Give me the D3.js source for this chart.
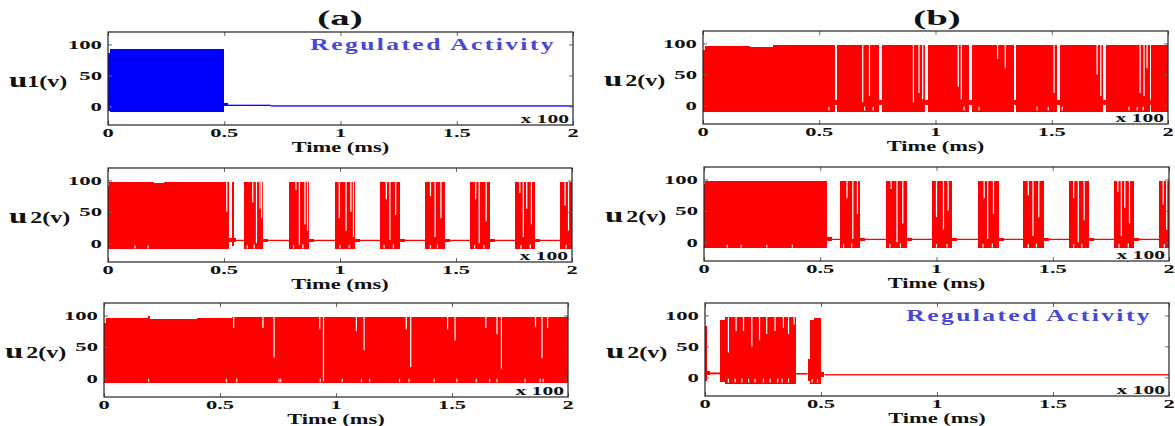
<!DOCTYPE html>
<html><head><meta charset="UTF-8">
<style>
  body { margin: 0; background: #fff; }
  svg { display: block; }
  text { font-family: "Liberation Serif", "DejaVu Serif", serif; font-weight: bold; }
</style>
</head>
<body>
<svg id="fig"></svg>
<script src="https://cdn.jsdelivr.net/npm/d3@7/dist/d3.min.js"></script>
<script>
// axis ticks (time in ms x100, voltage in v)
var xTicks = [0, 0.5, 1, 1.5, 2];
var xTickLabels = ["0", "0.5", "1", "1.5", "2"];
var yTicks = [0, 50, 100];
var yTickLabels = ["0", "50", "100"];
var yRange = [-30, 120];

// bursts: [start, end, low, high] -- spiking regions
// notches: [t, from, to] -- white gaps inside the bursts
// base: [start, end, low, high] -- quiet membrane level

// (a) top, u1, regulated
var a1Bursts = [[0, 0.008, -8, 86], [0.008, 0.5, -9, 92.5], [0.5, 0.515, 0, 5]];
var a1Notches = [];
var a1Base = [[0.5, 0.7, 1.5, 2.8], [0.7, 2, 1, 1.8]];

// (a) middle, u2
var a2Bursts = [
  [0, 0.006, -10, 91], [0.006, 0.2, -10, 97], [0.2, 0.24, -10, 95.5], [0.24, 0.52, -10, 97],
  [0.52, 0.55, 1.5, 8], [0.535, 0.541, -5, 97],
  [0.586, 0.668, -10, 97], [0.668, 0.69, 1.5, 7.5],
  [0.782, 0.867, -10, 97], [0.867, 0.889, 1.5, 7.5],
  [0.978, 1.065, -10, 97], [1.065, 1.087, 1.5, 7.5],
  [1.172, 1.258, -10, 97], [1.258, 1.28, 1.5, 7.5],
  [1.365, 1.452, -10, 97], [1.452, 1.474, 1.5, 7.5],
  [1.560, 1.645, -10, 97], [1.645, 1.667, 1.5, 7.5],
  [1.755, 1.840, -10, 97], [1.840, 1.862, 1.5, 7.5],
  [1.948, 2.0, -10, 97]
];
var a2Notches = [
  [0.116, -10, -4], [0.173, -10, -4], [0.512, 97, 50],
  [0.624, 97, 65], [0.64, 97, 0], [0.655, 97, 55], [0.662, 97, 40], [0.6, -10, -3], [0.63, -10, -2],
  [0.81, 97, 85], [0.825, 97, -3], [0.849, 97, 30], [0.86, 97, 20], [0.8, -10, -3], [0.84, -10, -2],
  [0.997, 97, 40], [1.026, 97, 20], [1.047, 97, 50], [1.058, 97, 10], [1.0, -10, -3], [1.04, -10, -3],
  [1.2, 97, 70], [1.215, 97, 5], [1.24, 97, 45], [1.19, -10, -3], [1.23, -10, -2],
  [1.39, 97, 75], [1.41, 97, 10], [1.435, 97, 40], [1.39, -10, -3], [1.42, -10, -2],
  [1.585, 97, 70], [1.6, 97, 0], [1.63, 97, 35], [1.58, -10, -3], [1.62, -10, -3],
  [1.775, 97, 80], [1.79, 97, 10], [1.805, 97, 55], [1.825, 97, 30], [1.78, -10, -3], [1.82, -10, -2],
  [1.97, 97, 60], [1.985, 97, 20], [1.975, -10, -3]
];
var a2Base = [[0.52, 2, 4, 5.5]];

// (a) bottom, u2
var a3Bursts = [
  [0, 0.01, -8, 88], [0.01, 0.19, -8, 96], [0.19, 0.2, -8, 99], [0.2, 0.4, -8, 95],
  [0.4, 0.55, -8, 96.5], [0.55, 0.8, -8, 97], [0.8, 1.3, -8, 97.5], [1.3, 2, -8, 98]
];
var a3Notches = [
  [0.559, 98, 80], [0.685, 98, 80], [0.733, 98, 33], [0.93, 98, 78], [0.946, 98, -5],
  [1.088, 98, 75], [1.121, 98, 45], [1.303, 98, 78], [1.322, 98, 18], [1.481, 98, 78],
  [1.513, 98, 60], [1.646, 98, 80], [1.694, 98, 70], [1.713, 98, 15], [1.86, 98, 82],
  [1.888, 98, 32], [1.912, 98, 80],
  [0.192, -8, -1], [0.528, -8, -1], [0.572, -8, -1], [0.754, -8, -1], [0.762, -8, -1],
  [0.932, -8, -1], [1.027, -8, -1], [1.11, -8, -1], [1.145, -8, -1], [1.274, -8, -1],
  [1.315, -8, -1], [1.423, -8, -1], [1.521, -8, -1], [1.605, -8, -1], [1.662, -8, -1],
  [1.694, -8, -1], [1.815, -8, -1], [1.88, -8, -1], [1.893, -8, -1]
];
var a3Base = [];

// (b) top, u2
var b1Bursts = [
  [0, 0.008, -10, 90], [0.008, 0.2, -10, 96], [0.2, 0.3, -10, 94.5], [0.3, 0.566, -10, 97],
  [0.566, 0.577, 0, 8], [0.577, 0.755, -10, 97.5], [0.755, 0.771, 0, 8],
  [0.771, 0.956, -10, 97.5], [0.956, 0.966, 0, 8], [0.966, 1.142, -10, 97.5],
  [1.142, 1.158, 0, 8], [1.158, 1.337, -10, 97.5], [1.337, 1.348, 0, 8],
  [1.348, 1.522, -10, 97.5], [1.522, 1.534, 0, 8], [1.534, 1.719, -10, 97.5],
  [1.719, 1.732, 0, 8], [1.732, 1.921, -10, 97.5], [1.921, 1.929, 0, 8], [1.929, 2, -10, 97.5]
];
var b1Notches = [
  [0.687, 98, 5], [0.716, 98, 15], [0.905, 98, 5], [0.929, 98, 20], [0.945, 98, 10],
  [1.098, 98, 30], [1.111, 98, 10], [1.267, 98, 75], [1.3, 98, 60], [1.51, 98, 20],
  [1.695, 98, 50], [1.711, 98, 15], [1.88, 98, 20], [1.897, 98, 15], [1.91, 98, 60],
  [0.542, -10, -2], [0.695, -10, -2], [0.732, -10, -2], [1.123, -10, -2], [1.187, -10, -2],
  [1.437, -10, -2], [1.485, -10, -2], [1.545, -10, -2], [1.832, -10, -2], [1.868, -10, -2], [1.893, -10, -2]
];
var b1Base = [];

// (b) middle, u2
var b2Bursts = [
  [0, 0.006, -10, 93], [0.006, 0.529, -10, 97.5], [0.529, 0.55, 1.5, 8],
  [0.587, 0.671, -10, 97], [0.671, 0.693, 1.5, 7.5],
  [0.784, 0.872, -10, 97], [0.872, 0.894, 1.5, 7.5],
  [0.981, 1.066, -10, 97], [1.066, 1.088, 1.5, 7.5],
  [1.178, 1.267, -10, 97], [1.267, 1.289, 1.5, 7.5],
  [1.372, 1.461, -10, 97], [1.461, 1.483, 1.5, 7.5],
  [1.571, 1.655, -10, 97], [1.655, 1.677, 1.5, 7.5],
  [1.764, 1.848, -10, 97], [1.848, 1.87, 1.5, 7.5],
  [1.958, 2.0, -10, 97]
];
var b2Notches = [
  [0.1, -10, -4], [0.16, -10, -4], [0.27, -10, -4], [0.38, -10, -4],
  [0.615, 97, 70], [0.64, 97, 5], [0.66, 97, 45], [0.6, -10, -3], [0.635, -10, -2],
  [0.805, 97, 85], [0.83, 97, 0], [0.855, 97, 30], [0.8, -10, -3], [0.845, -10, -2],
  [1.0, 97, 40], [1.03, 97, 20], [1.05, 97, 50], [1.0, -10, -3], [1.045, -10, -3],
  [1.205, 97, 70], [1.22, 97, 5], [1.245, 97, 45], [1.2, -10, -3], [1.24, -10, -2],
  [1.395, 97, 75], [1.415, 97, 10], [1.44, 97, 40], [1.395, -10, -3], [1.43, -10, -2],
  [1.59, 97, 70], [1.61, 97, 0], [1.635, 97, 35], [1.59, -10, -3], [1.625, -10, -3],
  [1.78, 97, 80], [1.795, 97, 10], [1.81, 97, 55], [1.83, 97, 30], [1.785, -10, -3], [1.825, -10, -2],
  [1.975, 97, 60], [1.99, 97, 20], [1.98, -10, -3]
];
var b2Base = [[0.529, 2, 4, 5.5]];

// (b) bottom, u2, regulated
var b3Bursts = [
  [0, 0.007, -5, 83], [0.007, 0.02, 4, 10], [0.065, 0.086, -8, 93], [0.086, 0.393, -10, 98],
  [0.442, 0.454, -5, 30], [0.454, 0.47, -10, 93], [0.47, 0.5, -10, 96],
  [0.5, 0.515, 1, 8.5]
];
var b3Notches = [
  [0.101, 98, 40], [0.134, 98, 75], [0.166, 98, 75], [0.202, 98, 50], [0.235, 98, 60],
  [0.266, 98, 70], [0.302, 98, 75], [0.338, 98, 80], [0.36, 98, 70], [0.384, 98, 85],
  [0.101, -10, -2], [0.13, -10, -2], [0.159, -10, -2], [0.188, -10, -2], [0.216, -10, -2],
  [0.252, -10, -2], [0.281, -10, -2], [0.313, -10, -2], [0.332, -10, -2], [0.36, -10, -2],
  [0.462, -10, -3], [0.485, -10, -3]
];
var b3Base = [[0.02, 0.065, 5, 8], [0.393, 0.442, 4.5, 7], [0.515, 2, 3.8, 5.3]];

var W = 1175, H = 426;
var RED = "#ff0000", BLUE = "#0000ff", REG = "#4747d8";

var panels = [
  {id: "a1", x0: 108, x1: 573, y0: 32, y1: 125, ylab: "1", color: BLUE, reg: true,
   bursts: a1Bursts, notches: a1Notches, base: a1Base},
  {id: "a2", x0: 108, x1: 572, y0: 168, y1: 262, ylab: "2", color: RED,
   bursts: a2Bursts, notches: a2Notches, base: a2Base},
  {id: "a3", x0: 104, x1: 568, y0: 303, y1: 397, ylab: "2", color: RED,
   bursts: a3Bursts, notches: a3Notches, base: a3Base},
  {id: "b1", x0: 703, x1: 1168, y0: 31, y1: 124, ylab: "2", color: RED,
   bursts: b1Bursts, notches: b1Notches, base: b1Base},
  {id: "b2", x0: 704, x1: 1169, y0: 167, y1: 261, ylab: "2", color: RED,
   bursts: b2Bursts, notches: b2Notches, base: b2Base},
  {id: "b3", x0: 705, x1: 1169, y0: 303, y1: 396, ylab: "2", color: RED, reg: true,
   bursts: b3Bursts, notches: b3Notches, base: b3Base}
];

var svg = d3.select("#fig").attr("width", W).attr("height", H);

// text in the source is stretched sideways
function stretch(sel, x, y, sx) {
  return sel.attr("transform", "translate(" + x + "," + y + ") scale(" + sx + ",1)");
}

panels.forEach(function (p) {
  var x = d3.scaleLinear().domain([0, 2]).range([p.x0, p.x1]);
  var y = d3.scaleLinear().domain(yRange).range([p.y1, p.y0]);
  var g = svg.append("g");

  svg.append("clipPath").attr("id", "clip-" + p.id)
    .append("rect").attr("x", p.x0).attr("y", p.y0)
    .attr("width", p.x1 - p.x0).attr("height", p.y1 - p.y0);
  var plot = g.append("g").attr("clip-path", "url(#clip-" + p.id + ")");

  plot.selectAll("rect.base").data(p.base).enter().append("rect")
    .attr("x", function (d) { return x(d[0]); })
    .attr("width", function (d) { return x(d[1]) - x(d[0]); })
    .attr("y", function (d) { return y(d[3]); })
    .attr("height", function (d) { return Math.max(1.3, y(d[2]) - y(d[3])); })
    .attr("fill", p.color);

  plot.selectAll("rect.burst").data(p.bursts).enter().append("rect")
    .attr("x", function (d) { return x(d[0]); })
    .attr("width", function (d) { return Math.max(1, x(d[1]) - x(d[0])); })
    .attr("y", function (d) { return y(d[3]); })
    .attr("height", function (d) { return y(d[2]) - y(d[3]); })
    .attr("fill", p.color)
    .attr("shape-rendering", "crispEdges");

  plot.selectAll("line.notch").data(p.notches).enter().append("line")
    .attr("x1", function (d) { return x(d[0]); })
    .attr("x2", function (d) { return x(d[0]); })
    .attr("y1", function (d) { return y(d[1]) - 1; })
    .attr("y2", function (d) { return y(d[2]); })
    .attr("stroke", "#fff").attr("stroke-width", 1.2);

  // inward ticks on all four sides
  var axes = [
    g.append("g").attr("transform", "translate(0," + p.y1 + ")")
      .call(d3.axisBottom(x).tickValues(xTicks).tickSize(-4).tickFormat("")),
    g.append("g").attr("transform", "translate(0," + p.y0 + ")")
      .call(d3.axisTop(x).tickValues(xTicks).tickSize(-4).tickFormat("")),
    g.append("g").attr("transform", "translate(" + p.x0 + ",0)")
      .call(d3.axisLeft(y).tickValues(yTicks).tickSize(-4).tickFormat("")),
    g.append("g").attr("transform", "translate(" + p.x1 + ",0)")
      .call(d3.axisRight(y).tickValues(yTicks).tickSize(-4).tickFormat(""))
  ];
  axes.forEach(function (a) {
    a.select(".domain").remove();
    a.selectAll(".tick line").attr("stroke", "#666");
  });
  g.append("rect").attr("x", p.x0).attr("y", p.y0)
    .attr("width", p.x1 - p.x0).attr("height", p.y1 - p.y0)
    .attr("fill", "none").attr("stroke", "#222").attr("stroke-width", 1.2);

  // tick labels
  xTicks.forEach(function (t, i) {
    stretch(g.append("text").attr("text-anchor", "middle").attr("font-size", 12.5)
      .attr("fill", "#111").text(xTickLabels[i]), x(t), p.y1 + 12, 1.8);
  });
  yTicks.forEach(function (v, i) {
    stretch(g.append("text").attr("text-anchor", "end").attr("font-size", 13)
      .attr("fill", "#111").text(yTickLabels[i]), p.x0 - 6, y(v) + 4.5, 1.75);
  });

  stretch(g.append("text").attr("text-anchor", "middle").attr("font-size", 14.5)
    .attr("fill", "#111").text("Time (ms)"), (p.x0 + p.x1) / 2, p.y1 + 26.5, 1.55);

  stretch(g.append("text").attr("text-anchor", "end").attr("font-size", 12)
    .attr("fill", "#111").text("x 100"), p.x1 - 4, p.y1 - 2, 1.8);

  var yl = g.append("text").attr("fill", "#111");
  yl.append("tspan").attr("font-size", 22).text("u");
  yl.append("tspan").attr("font-size", 16).attr("dx", p.id === "a1" ? 0 : 2).text(p.ylab + "(v)");
  stretch(yl, p.x0 - 99, p.y0 + 55, 1.5);

  if (p.reg) {
    stretch(g.append("text").attr("text-anchor", "end").attr("font-size", 16)
      .attr("letter-spacing", 1.5).attr("fill", REG).text("Regulated Activity"),
      p.x1 - 17, p.y0 + 18, 1.6);
  }
});

stretch(svg.append("text").attr("text-anchor", "middle").attr("font-size", 21)
  .attr("fill", "#111").text("(a)"), 340, 25, 1.85);
stretch(svg.append("text").attr("text-anchor", "middle").attr("font-size", 21)
  .attr("fill", "#111").text("(b)"), 937, 25, 1.85);
</script>
</body></html>
